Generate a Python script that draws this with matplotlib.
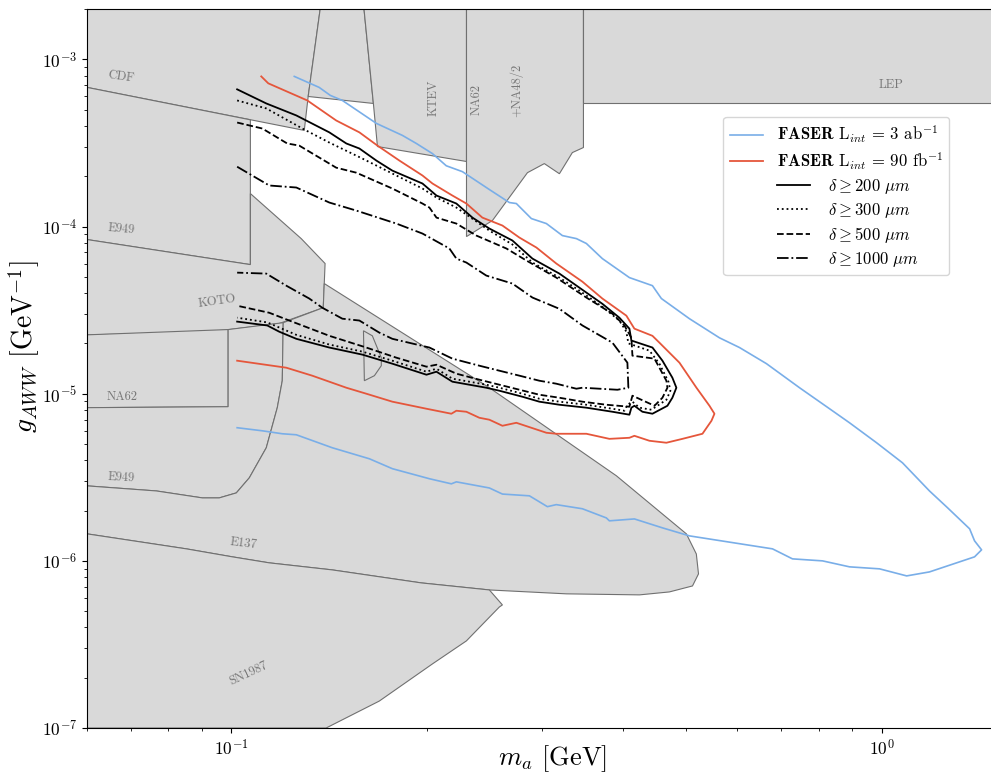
import matplotlib
matplotlib.use("Agg")
import matplotlib.pyplot as plt
from matplotlib.legend_handler import HandlerLine2D
from matplotlib.lines import Line2D
from matplotlib.ticker import NullFormatter

plt.rcParams["font.family"] = "serif"
plt.rcParams["font.serif"] = ["cmr10"]
plt.rcParams["mathtext.fontset"] = "cm"
plt.rcParams["axes.formatter.use_mathtext"] = True

# ---- excluded regions, (m_a [GeV], g_AWW [1/GeV]) ----
cdf = [(0.06, 2e-3), (0.137, 2e-3), (0.1313, 6.0e-4), (0.1295, 3.76e-4), (0.06, 6.8e-4)]
gap = [(0.137, 2e-3), (0.160, 2e-3), (0.1654, 5.45e-4), (0.1313, 6.0e-4)]
ktev = [(0.160, 2e-3), (0.23, 2e-3), (0.23, 2.45e-4), (0.1678, 3.01e-4), (0.1654, 5.45e-4)]
na62_k = [(0.23, 2e-3), (0.348, 2e-3), (0.348, 2.97e-4), (0.3346, 2.77e-4), (0.3196, 2.07e-4),
          (0.303, 2.38e-4), (0.2854, 2.10e-4), (0.2521, 1.086e-4), (0.23, 8.71e-5)]
lep = [(0.348, 2e-3), (1.5, 2e-3), (1.5, 5.45e-4), (0.348, 5.45e-4)]
e949_top = [(0.06, 6.8e-4), (0.107, 4.35e-4), (0.107, 5.92e-5), (0.06, 8.36e-5)]
koto = [(0.06, 8.36e-5), (0.107, 5.92e-5), (0.107, 1.575e-4), (0.1281, 8.47e-5), (0.1394, 6.01e-5),
        (0.1385, 3.27e-5), (0.1185, 2.63e-5), (0.0993, 2.42e-5), (0.0893, 2.32e-5), (0.06, 2.25e-5)]
na62_low = [(0.06, 2.25e-5), (0.0989, 2.42e-5), (0.0989, 8.36e-6), (0.06, 8.25e-6)]
e949_low = [(0.06, 8.25e-6), (0.0989, 8.36e-6), (0.0989, 2.42e-5), (0.1202, 2.66e-5), (0.1198, 1.196e-5),
            (0.1177, 8.25e-6), (0.1132, 4.75e-6), (0.1066, 3.14e-6), (0.1018, 2.55e-6), (0.0958, 2.38e-6),
            (0.0903, 2.38e-6), (0.0767, 2.62e-6), (0.06, 2.81e-6)]
e137 = [(0.139, 4.56e-5), (0.2494, 1.086e-5), (0.391, 3.23e-6), (0.501, 1.451e-6), (0.519, 1.10e-6),
        (0.523, 8.36e-7), (0.512, 7.08e-7), (0.4718, 6.52e-7), (0.4243, 6.26e-7), (0.3276, 6.35e-7),
        (0.2494, 6.70e-7), (0.1961, 7.38e-7), (0.143, 8.83e-7), (0.1144, 9.73e-7), (0.1004, 1.057e-6),
        (0.0853, 1.18e-6), (0.06, 1.451e-6), (0.06, 2.81e-6), (0.0767, 2.62e-6), (0.0903, 2.38e-6),
        (0.0958, 2.38e-6), (0.1018, 2.55e-6), (0.1066, 3.14e-6), (0.1132, 4.75e-6), (0.1177, 8.25e-6),
        (0.1198, 1.196e-5), (0.1202, 2.66e-5), (0.1385, 3.27e-5)]
sn1987 = [(0.06, 1.451e-6), (0.0853, 1.18e-6), (0.1004, 1.057e-6), (0.1144, 9.73e-7), (0.143, 8.83e-7),
          (0.1961, 7.38e-7), (0.2494, 6.70e-7), (0.2612, 5.45e-7), (0.2584, 5.30e-7), (0.2299, 3.32e-7),
          (0.2039, 2.42e-7), (0.1689, 1.45e-7), (0.1399, 1e-7), (0.06, 1e-7)]
blob = [(0.1597, 2.38e-5), (0.1648, 2.22e-5), (0.1701, 1.643e-5), (0.1701, 1.471e-5),
        (0.166, 1.282e-5), (0.1602, 1.196e-5)]

regions = [cdf, gap, ktev, na62_k, lep, e949_top, koto, na62_low, e949_low, e137, sn1987, blob]

# region names: (text, m, g, rotation)
region_labels = [
    ("CDF", 0.0677, 7.91e-4, -8), ("E949", 0.0677, 9.59e-5, -5), ("KOTO", 0.0952, 3.55e-5, 8),
    ("NA62", 0.068, 9.59e-6, 0), ("E949", 0.0677, 3.14e-6, -3), ("E137", 0.1044, 1.265e-6, -7),
    ("SN1987", 0.1062, 2.13e-7, 25), ("KTEV", 0.2046, 5.92e-4, 90), ("NA62", 0.2382, 5.76e-4, 90),
    ("+NA48/2", 0.2744, 6.52e-4, 90), ("LEP", 1.036, 6.99e-4, 0),
]

# ---- FASER reach ----
faser_3ab = [(0.125, 7.91e-4), (0.1365, 6.80e-4), (0.142, 6.09e-4), (0.1482, 5.68e-4), (0.1672, 4.14e-4),
             (0.1833, 3.51e-4), (0.1926, 3.14e-4), (0.2039, 2.73e-4), (0.2141, 2.31e-4), (0.2267, 2.13e-4),
             (0.2494, 1.665e-4), (0.2677, 1.392e-4), (0.2744, 1.373e-4), (0.2894, 1.116e-4), (0.3052, 1.042e-4),
             (0.323, 8.83e-5), (0.3394, 8.47e-5), (0.3516, 7.92e-5), (0.3721, 6.43e-5), (0.4095, 4.95e-5),
             (0.4443, 4.43e-5), (0.4586, 3.71e-5), (0.5065, 2.81e-5), (0.5633, 2.16e-5), (0.6047, 1.889e-5),
             (0.6654, 1.512e-5), (0.7479, 1.086e-5), (0.8318, 8.13e-6), (0.8928, 6.70e-6), (0.9825, 5.09e-6),
             (1.077, 3.86e-6), (1.185, 2.62e-6), (1.263, 2.08e-6), (1.366, 1.555e-6), (1.390, 1.318e-6),
             (1.425, 1.164e-6), (1.390, 1.057e-6), (1.185, 8.59e-7), (1.093, 8.13e-7), (0.9929, 8.96e-7),
             (0.8928, 9.21e-7), (0.8114, 1.0e-6), (0.7295, 1.028e-6), (0.6797, 1.18e-6), (0.5065, 1.411e-6),
             (0.4603, 1.576e-6), (0.4168, 1.782e-6), (0.3815, 1.736e-6), (0.3774, 1.807e-6), (0.3467, 2.05e-6),
             (0.3161, 2.17e-6), (0.3063, 2.11e-6), (0.2874, 2.45e-6), (0.2612, 2.51e-6), (0.2494, 2.73e-6),
             (0.2219, 2.97e-6), (0.218, 2.89e-6), (0.2017, 3.10e-6), (0.1769, 3.56e-6), (0.1631, 4.08e-6),
             (0.143, 4.75e-6), (0.1259, 5.68e-6), (0.1198, 5.76e-6), (0.1116, 6.00e-6), (0.1021, 6.26e-6)]

faser_90fb = [(0.1112, 7.91e-4), (0.114, 7.19e-4), (0.1309, 5.68e-4), (0.145, 4.31e-4), (0.1574, 3.66e-4),
              (0.1678, 3.05e-4), (0.1814, 2.48e-4), (0.1968, 2.02e-4), (0.2039, 1.809e-4), (0.2188, 1.533e-4),
              (0.2299, 1.373e-4), (0.2433, 1.131e-4), (0.2612, 1.014e-4), (0.2774, 8.59e-5), (0.2946, 7.49e-5),
              (0.3161, 6.01e-5), (0.3467, 4.68e-5), (0.3721, 3.71e-5), (0.4051, 2.93e-5), (0.4168, 2.45e-5),
              (0.4443, 2.22e-5), (0.4554, 2.02e-5), (0.4889, 1.533e-5), (0.5192, 1.086e-5), (0.5437, 8.47e-6),
              (0.5534, 7.59e-6), (0.5476, 6.89e-6), (0.5304, 5.76e-6), (0.4941, 5.37e-6), (0.4668, 5.09e-6),
              (0.4396, 5.23e-6), (0.4168, 5.60e-6), (0.4095, 5.45e-6), (0.3815, 5.37e-6), (0.3516, 5.76e-6),
              (0.3161, 5.76e-6), (0.3052, 5.84e-6), (0.2744, 6.70e-6), (0.2612, 6.43e-6), (0.2494, 6.99e-6),
              (0.2407, 7.18e-6), (0.2299, 7.80e-6), (0.2219, 7.91e-6), (0.218, 7.59e-6), (0.1996, 8.13e-6),
              (0.1769, 8.96e-6), (0.1613, 1.0e-5), (0.1503, 1.086e-5), (0.1332, 1.282e-5), (0.1215, 1.431e-5),
              (0.1021, 1.576e-5)]

# ---- displaced vertex requirement (90 fb^-1) ----
delta_200 = [(0.1021, 6.62e-4), (0.1132, 5.45e-4), (0.1259, 4.62e-4), (0.1415, 3.66e-4), (0.1503, 3.14e-4),
             (0.1574, 2.93e-4), (0.1672, 2.48e-4), (0.1769, 2.16e-4), (0.1968, 1.809e-4), (0.2068, 1.533e-4),
             (0.2219, 1.373e-4), (0.2349, 1.131e-4), (0.2494, 9.73e-5), (0.2706, 8.25e-5), (0.2905, 6.43e-5),
             (0.3196, 5.23e-5), (0.343, 4.31e-5), (0.3721, 3.45e-5), (0.3952, 2.85e-5), (0.4095, 2.45e-5),
             (0.4124, 2.08e-5), (0.4443, 1.889e-5), (0.4603, 1.576e-5), (0.4768, 1.247e-5), (0.4836, 1.086e-5),
             (0.4768, 9.46e-6), (0.4685, 8.47e-6), (0.4443, 7.59e-6), (0.4288, 7.80e-6), (0.4168, 8.47e-6),
             (0.4124, 8.25e-6), (0.4095, 7.49e-6), (0.3856, 7.80e-6), (0.3516, 8.25e-6), (0.3196, 8.59e-6),
             (0.2977, 8.96e-6), (0.2804, 9.59e-6), (0.2584, 1.042e-5), (0.2467, 1.086e-5), (0.2188, 1.18e-5),
             (0.2068, 1.354e-5), (0.1996, 1.299e-5), (0.1769, 1.512e-5), (0.1591, 1.713e-5), (0.1415, 1.889e-5),
             (0.1259, 2.13e-5), (0.1185, 2.35e-5), (0.1136, 2.56e-5), (0.1021, 2.70e-5)]

delta_300 = [(0.1021, 5.68e-4), (0.1132, 5.09e-4), (0.1286, 3.86e-4), (0.1415, 3.18e-4), (0.1591, 2.55e-4),
             (0.1794, 2.02e-4), (0.1968, 1.688e-4), (0.2068, 1.491e-4), (0.2219, 1.299e-4), (0.2494, 9.46e-5),
             (0.2706, 7.81e-5), (0.2905, 6.09e-5), (0.3196, 4.95e-5), (0.343, 4.14e-5), (0.3721, 3.31e-5),
             (0.3952, 2.74e-5), (0.4051, 2.35e-5), (0.408, 2.0e-5), (0.4396, 1.81e-5), (0.4554, 1.512e-5),
             (0.4702, 1.18e-5), (0.4735, 1.042e-5), (0.4668, 9.2e-6), (0.4427, 8.02e-6), (0.4243, 8.25e-6),
             (0.4139, 8.96e-6), (0.4066, 8.59e-6), (0.4023, 7.91e-6), (0.3856, 8.13e-6), (0.3516, 8.59e-6),
             (0.3196, 8.96e-6), (0.2977, 9.33e-6), (0.2804, 1.0e-5), (0.2584, 1.086e-5), (0.2467, 1.132e-5),
             (0.2188, 1.23e-5), (0.2068, 1.411e-5), (0.1996, 1.354e-5), (0.1769, 1.576e-5), (0.1591, 1.785e-5),
             (0.1415, 1.968e-5), (0.1259, 2.25e-5), (0.1136, 2.67e-5), (0.1021, 2.85e-5)]

delta_500 = [(0.1021, 4.19e-4), (0.1116, 3.86e-4), (0.1219, 3.14e-4), (0.1272, 3.05e-4), (0.145, 2.25e-4),
             (0.1557, 2.10e-4), (0.1769, 1.688e-4), (0.1968, 1.373e-4), (0.2017, 1.299e-4), (0.2068, 1.131e-4),
             (0.2219, 1.042e-4), (0.2382, 8.83e-5), (0.2649, 7.39e-5), (0.2844, 6.26e-5), (0.3161, 4.95e-5),
             (0.3516, 3.76e-5), (0.3856, 3.01e-5), (0.4023, 2.56e-5), (0.4124, 2.16e-5), (0.4139, 1.689e-5),
             (0.4475, 1.621e-5), (0.4668, 1.196e-5), (0.4685, 1.086e-5), (0.4603, 9.46e-6), (0.4475, 8.47e-6),
             (0.4139, 9.73e-6), (0.4095, 8.36e-6), (0.3774, 8.59e-6), (0.3467, 8.96e-6), (0.3196, 9.46e-6),
             (0.2977, 9.86e-6), (0.2584, 1.132e-5), (0.2407, 1.213e-5), (0.2219, 1.318e-5), (0.2068, 1.491e-5),
             (0.1996, 1.451e-5), (0.1794, 1.643e-5), (0.1613, 1.889e-5), (0.1415, 2.22e-5), (0.1228, 2.74e-5),
             (0.1144, 3.05e-5), (0.1021, 3.36e-5)]

delta_1000 = [(0.1021, 2.28e-4), (0.1144, 1.76e-4), (0.1259, 1.712e-4), (0.1415, 1.392e-4), (0.1557, 1.246e-4),
              (0.1794, 1.042e-4), (0.1968, 9.08e-5), (0.2165, 7.39e-5), (0.2219, 6.43e-5), (0.2299, 6.09e-5),
              (0.2467, 5.09e-5), (0.2706, 4.56e-5), (0.2905, 3.76e-5), (0.3196, 3.22e-5), (0.3467, 2.56e-5),
              (0.3856, 2.02e-5), (0.4066, 1.533e-5), (0.408, 1.086e-5), (0.3925, 1.056e-5), (0.3467, 1.086e-5),
              (0.3394, 1.071e-5), (0.3161, 1.148e-5), (0.2977, 1.196e-5), (0.2774, 1.282e-5), (0.2584, 1.373e-5),
              (0.2407, 1.471e-5), (0.2188, 1.621e-5), (0.2017, 1.889e-5), (0.1769, 2.13e-5), (0.1689, 2.32e-5),
              (0.1574, 2.74e-5), (0.1482, 2.81e-5), (0.138, 3.27e-5), (0.1318, 3.71e-5), (0.1215, 4.43e-5),
              (0.1132, 5.23e-5), (0.1021, 5.30e-5)]

fig = plt.figure(figsize=(9.91, 7.75), dpi=100)
ax = fig.add_axes([0.0878, 0.0606, 0.9173, 0.9277])

for poly in regions:
    m, g = zip(*poly)
    ax.fill(m, g, facecolor="#d9d9d9", edgecolor="#707070", linewidth=0.8, zorder=1)

for text, m, g, rot in region_labels:
    ax.text(m, g, text, fontsize=9, color="#777777", rotation=rot,
            ha="center", va="center", zorder=2)

blue = "#79aee8"
red = "#e5563b"

m, g = zip(*faser_3ab)
ax.plot(m, g, color=blue, lw=1.2, zorder=3)
m, g = zip(*faser_90fb)
ax.plot(m, g, color=red, lw=1.3, zorder=3)

for curve, ls in [(delta_200, "-"), (delta_300, ":"), (delta_500, "--"), (delta_1000, "-.")]:
    m, g = zip(*curve)
    ax.plot(m, g, color="black", ls=ls, lw=1.3, zorder=4)

ax.set_xscale("log")
ax.set_yscale("log")
ax.set_xlim(0.06, 1.5)
ax.set_ylim(1e-7, 2e-3)
ax.xaxis.set_minor_formatter(NullFormatter())
ax.yaxis.set_minor_formatter(NullFormatter())
ax.tick_params(labelsize=12.5)
ax.set_xlabel(r"$m_a$ [GeV]", fontsize=19)
ax.set_ylabel(r"$g_{AWW}$ [GeV$^{-1}$]", fontsize=20)
ax.xaxis.set_label_coords(0.512, -0.021)
ax.yaxis.set_label_coords(-0.05, 0.53)


class OffsetLine(HandlerLine2D):
    # draws the sample line one handle further right
    def create_artists(self, legend, orig_handle, xdescent, ydescent, width, height, fontsize, trans):
        shift = width + legend.handletextpad * fontsize
        return super().create_artists(legend, orig_handle, xdescent - shift, ydescent,
                                      width, height, fontsize, trans)


handles = [Line2D([], [], color=blue, lw=1.2), Line2D([], [], color=red, lw=1.3)]
labels = [r"$\mathbf{FASER}$ L$_{int}$ = 3 ab$^{-1}$", r"$\mathbf{FASER}$ L$_{int}$ = 90 fb$^{-1}$"]
hmap = {}
for ls, d in [("-", 200), (":", 300), ("--", 500), ("-.", 1000)]:
    h = Line2D([], [], color="black", ls=ls, lw=1.3)
    handles.append(h)
    labels.append(r"$\qquad\enspace\;\;\;\,\delta \geq %d\ \mu m$" % d)
    hmap[h] = OffsetLine()

ax.legend(handles, labels, handler_map=hmap, fontsize=12, loc="upper left",
          bbox_to_anchor=(0.70, 0.85), borderaxespad=0, handlelength=2.0, labelspacing=0.3)

fig.savefig("out.png", dpi=100)
